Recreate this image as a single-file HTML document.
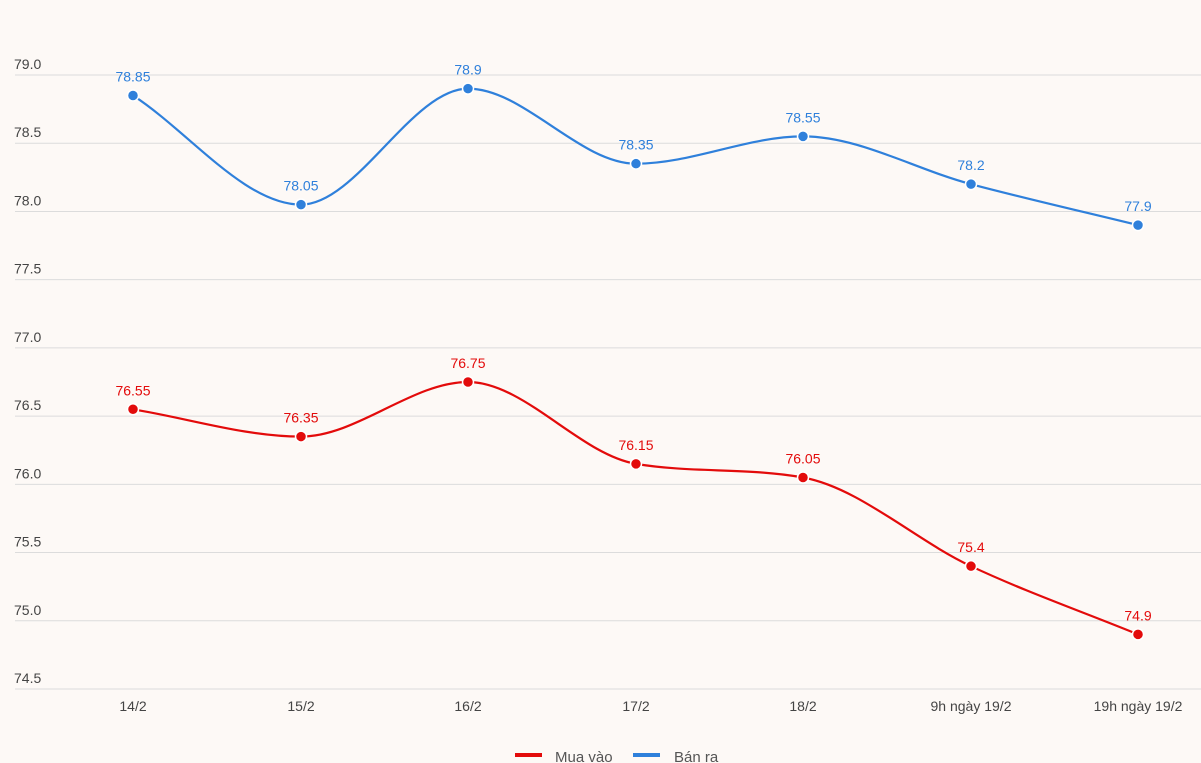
<!DOCTYPE html>
<html><head><meta charset="utf-8"><style>
html,body{margin:0;padding:0;background:#fdf9f6;}
svg{display:block;font-family:"Liberation Sans",sans-serif;}
</style></head><body>
<svg id="s" width="1201" height="763" viewBox="0 0 1201 763"></svg>
<script>
const s=document.getElementById('s');
const X=[133,301,468,636,803,971,1138];
const Y=v=>75+(79-v)/0.5*68.22;
let h='';
for(let i=0;i<=9;i++){const v=79-i*0.5,y=Y(v);
h+=`<line x1="15" x2="1201" y1="${y}" y2="${y}" stroke="#dcdcdc" stroke-width="1"/>`;
h+=`<text x="14" y="${y-6}" font-size="14" fill="#444">${v.toFixed(1)}</text>`;}
const labs=['14/2','15/2','16/2','17/2','18/2','9h ngày 19/2','19h ngày 19/2'];
labs.forEach((l,i)=>h+=`<text x="${X[i]}" y="711" font-size="14" fill="#444" text-anchor="middle">${l}</text>`);
function path(P){ // monotone X
 const n=P.length,d=[],m=[];
 for(let i=0;i<n-1;i++)d.push((P[i+1][1]-P[i][1])/(P[i+1][0]-P[i][0]));
 m[0]=d[0];m[n-1]=d[n-2];
 for(let i=1;i<n-1;i++){m[i]=d[i-1]*d[i]<=0?0:(d[i-1]+d[i])/2;}
 for(let i=0;i<n-1;i++){if(d[i]==0){m[i]=m[i+1]=0;continue;}const a=m[i]/d[i],b=m[i+1]/d[i],t=a*a+b*b;if(t>9){const k=3/Math.sqrt(t);m[i]=k*a*d[i];m[i+1]=k*b*d[i];}}
 let p=`M${P[0][0]},${P[0][1]}`;
 for(let i=0;i<n-1;i++){const dx=(P[i+1][0]-P[i][0])/3;p+=`C${P[i][0]+dx},${P[i][1]+m[i]*dx} ${P[i+1][0]-dx},${P[i+1][1]-m[i+1]*dx} ${P[i+1][0]},${P[i+1][1]}`;}
 return p;}
function series(vals,c){const P=vals.map((v,i)=>[X[i],Y(v)]);
 h+=`<path d="${path(P)}" fill="none" stroke="${c}" stroke-width="2.2"/>`;
 P.forEach((p,i)=>{h+=`<circle cx="${p[0]}" cy="${p[1]}" r="5.5" fill="${c}" stroke="#fff" stroke-width="1.5"/>`;
 h+=`<text x="${p[0]}" y="${p[1]-14}" font-size="14" fill="${c}" text-anchor="middle">${vals[i]}</text>`;});}
series([78.85,78.05,78.9,78.35,78.55,78.2,77.9],'#2f80db');
series([76.55,76.35,76.75,76.15,76.05,75.4,74.9],'#e30b0b');
h+=`<rect x="515" y="753" width="27" height="4" fill="#e30b0b"/><text x="555" y="762" font-size="15" fill="#555">Mua vào</text>`;
h+=`<rect x="633" y="753" width="27" height="4" fill="#2f80db"/><text x="674" y="762" font-size="15" fill="#555">Bán ra</text>`;
s.innerHTML=h;
</script>
</body></html>
